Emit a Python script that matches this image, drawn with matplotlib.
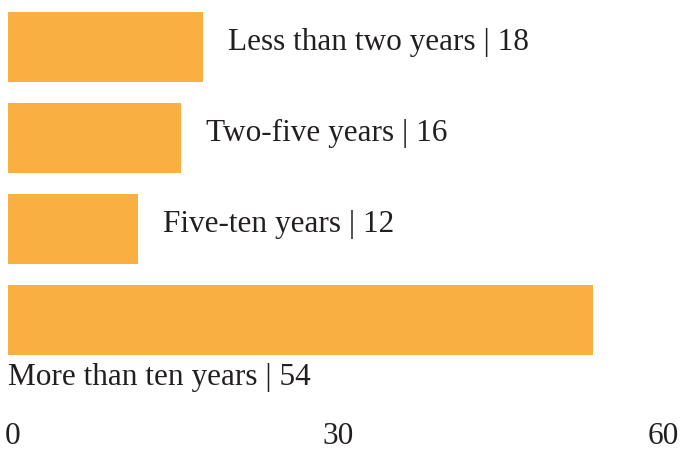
import matplotlib.pyplot as plt
from matplotlib.transforms import ScaledTranslation

categories = ['Less than two years', 'Two-five years', 'Five-ten years', 'More than ten years']
counts = [18, 16, 12, 54]
xticks = [0, 30, 60]

plt.rcParams['font.family'] = ['Liberation Serif', 'DejaVu Serif']
plt.rcParams['font.size'] = 22.5
ink = '#231f20'

fig = plt.figure(figsize=(6.84, 4.49), dpi=100)
ax = fig.add_axes([8 / 684, 40 / 449, 650 / 684, 409 / 449])

pos = list(range(len(categories)))
ax.barh(pos, counts, height=0.77, color='#f9b041')
ax.set_xlim(0, 60)
ax.set_ylim((409 - 47) / 91, -47 / 91)

# labels beside the short bars, the long one gets its label underneath
for i, (name, n) in enumerate(zip(categories, counts)):
    label = f'{name} | {n}'
    if n < 40:
        ax.annotate(label, (n, i), xytext=(18, -2), textcoords='offset points',
                    ha='left', va='baseline', color=ink)
    else:
        ax.annotate(label, (0, i + 0.385), xytext=(0, -6), textcoords='offset points',
                    ha='left', va='top', color=ink)

ax.set_xticks(xticks)
ax.set_xticklabels([str(t) for t in xticks], color=ink)
ax.tick_params(axis='x', length=0, pad=9)
shift = ScaledTranslation(5 / 100, 0, fig.dpi_scale_trans)
for lab in ax.get_xticklabels():
    lab.set_transform(lab.get_transform() + shift)
ax.set_yticks([])
for s in ax.spines.values():
    s.set_visible(False)

fig.savefig('out.png', dpi=100)
